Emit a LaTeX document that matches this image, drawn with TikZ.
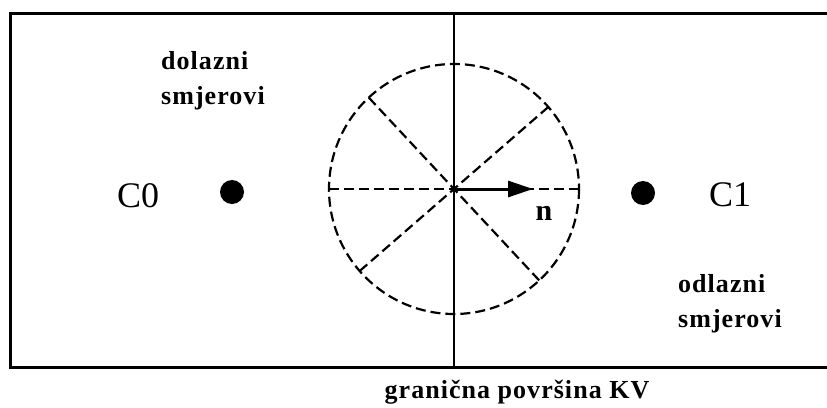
\documentclass[tikz,border=0pt]{standalone}
\usepackage{fontspec}
\setmainfont{Liberation Serif}
\usetikzlibrary{arrows.meta,positioning}

\begin{document}
\begin{tikzpicture}[
    x=1pt, y=-1pt,
    frame/.style={line width=3pt},
    dirline/.style={dash pattern=on 10pt off 5pt, line width=2.2pt},
    cell/.style={circle, fill=black, inner sep=0pt, minimum size=24pt},
    cname/.style={font=\fontsize{36}{40}\selectfont, inner sep=0pt},
    lbl/.style={font=\fontsize{26}{35}\selectfont\bfseries\addfontfeature{LetterSpace=4}, align=left, inner sep=0pt},
    arrow/.style={-{Triangle[length=25pt,width=16pt]}, line width=3pt},
]
\clip (0,0) rectangle (827,407);

% Control volume frame and boundary face
\draw[frame] (840,13) -- (10,13) -- (10,367) -- (840,367);
\coordinate (ftop) at (454,13);
\coordinate (fbot) at (454,367);
\draw[line width=2.6pt] (ftop) -- (fbot);

% Cell centres
\node[cell] (c0) at (232,192) {};
\node[cname, anchor=base west] (c0lbl) at (117,207) {C0};
\node[cell] (c1) at (643,193) {};
\node[cname, anchor=base west] (c1lbl) at (709,206) {C1};

% Directions circle
\coordinate (o) at (454,189);
\draw[dirline] (o) circle [radius=125];
\coordinate (e) at (579,189);
\coordinate (w) at (329,189);
\coordinate (nw) at (368.8,97.6);
\coordinate (se) at (539.2,280.4);
\coordinate (ne) at (548.3,107);
\coordinate (sw) at (359.7,271);
\draw[dirline] (w) -- (e);
\draw[dirline] (nw) -- (se);
\draw[dirline] (sw) -- (ne);

% Face normal
\coordinate (ntip) at (533,189);
\draw[arrow] (o) -- (ntip);
\node[font=\fontsize{30}{30}\selectfont\bfseries, inner sep=0pt] (n) at (544,213) {n};

% Labels
\node[lbl, anchor=north west] (incoming) at (161,51) {dolazni\\smjerovi};
\node[lbl, anchor=north west] (outgoing) at (678,274) {odlazni\\smjerovi};
\node[lbl, anchor=base] (face) at (517,398) {granična površina KV};

\end{tikzpicture}
\end{document}
